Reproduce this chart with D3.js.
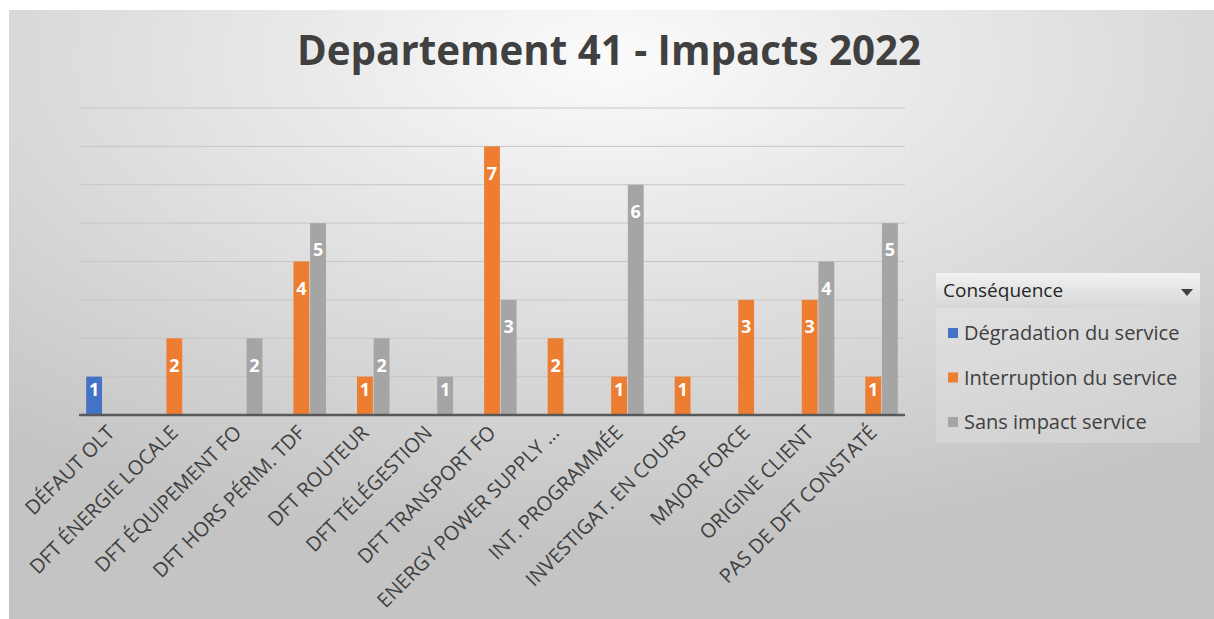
<!DOCTYPE html>
<html>
<head>
    <title>Departement 41 - Impacts 2022</title>
    <script src="https://d3js.org/d3.v7.min.js"></script>
    <style>
        body { margin: 0; background: #ffffff; }
        .cat-label { font-family: 'Open Sans', sans-serif; font-size: 20px; fill: #404040; }
        .val-label { font-family: 'Open Sans', sans-serif; font-size: 18px; font-weight: bold; fill: #ffffff; }
        .leg-text { font-family: 'Open Sans', sans-serif; font-size: 20px; fill: #404040; }
    </style>
</head>
<body>
    <svg id="chart" width="1214" height="619"></svg>

    <script>
        var categories = ["DÉFAUT OLT", "DFT ÉNERGIE LOCALE", "DFT ÉQUIPEMENT FO", "DFT HORS PÉRIM. TDF",
                          "DFT ROUTEUR", "DFT TÉLÉGESTION", "DFT TRANSPORT FO", "ENERGY POWER SUPPLY ...",
                          "INT. PROGRAMMÉE", "INVESTIGAT. EN COURS", "MAJOR FORCE", "ORIGINE CLIENT",
                          "PAS DE DFT CONSTATÉ"];

        var seriesNames = ["Dégradation du service", "Interruption du service", "Sans impact service"];
        var seriesColors = ["#4472c4", "#ed7d31", "#a5a5a5"];

        var degradation  = [1, null, null, null, null, null, null, null, null, null, null, null, null];
        var interruption = [null, 2, null, 4, 1, null, 7, 2, 1, 1, 3, 3, 1];
        var sansImpact   = [null, null, 2, 5, 2, 1, 3, null, 6, null, null, 4, 5];

        var gridTicks = [1, 2, 3, 4, 5, 6, 7, 8];

        var allSeries = [degradation, interruption, sansImpact];

        var svg = d3.select("#chart");

        // background
        var defs = svg.append("defs");
        var grad = defs.append("radialGradient").attr("id", "bg")
                       .attr("cx", "50%").attr("cy", "8%").attr("r", "80%");
        grad.append("stop").attr("offset", "0%").attr("stop-color", "#fbfbfb");
        grad.append("stop").attr("offset", "100%").attr("stop-color", "#c4c4c4");

        svg.append("rect").attr("x", 9).attr("y", 10).attr("width", 1205).attr("height", 609)
           .attr("fill", "url(#bg)");

        // title
        svg.append("text")
           .attr("x", 609).attr("y", 65)
           .attr("text-anchor", "middle")
           .attr("textLength", 624).attr("lengthAdjust", "spacingAndGlyphs")
           .style("font-family", "'Open Sans', sans-serif")
           .style("font-size", "42px").style("font-weight", "700")
           .style("fill", "#404040")
           .text("Departement 41 - Impacts 2022");

        var x0 = d3.scaleBand().domain(categories).range([79, 905])
                   .paddingInner(0.2).paddingOuter(0.1);
        var x1 = d3.scaleBand().domain(d3.range(3)).range([0, x0.bandwidth()]).padding(0.05);
        var y = d3.scaleLinear().domain([0, 8]).range([415, 108]);

        // gridlines
        svg.append("g").selectAll("line").data(gridTicks).enter().append("line")
           .attr("x1", 79).attr("x2", 905)
           .attr("y1", function(d) { return y(d); })
           .attr("y2", function(d) { return y(d); })
           .attr("stroke", "#c6c6c6").attr("stroke-width", 1);

        // bars
        var rows = [];
        allSeries.forEach(function(s, si) {
            s.forEach(function(v, ci) {
                if (v != null) rows.push({ cat: categories[ci], s: si, v: v });
            });
        });

        var bars = svg.append("g");
        bars.selectAll("rect").data(rows).enter().append("rect")
            .attr("x", function(d) { return x0(d.cat) + x1(d.s); })
            .attr("width", x1.bandwidth())
            .attr("y", function(d) { return y(d.v); })
            .attr("height", function(d) { return y(0) - y(d.v); })
            .attr("fill", function(d) { return seriesColors[d.s]; });

        bars.selectAll("text").data(rows).enter().append("text")
            .attr("class", "val-label")
            .attr("text-anchor", "middle")
            .attr("x", function(d) { return x0(d.cat) + x1(d.s) + x1.bandwidth() / 2; })
            .attr("y", function(d) { return Math.min(y(d.v) + 27, y(0) - 25); })
            .attr("dy", "0.35em")
            .text(function(d) { return d.v; });

        // baseline
        svg.append("line").attr("x1", 79).attr("x2", 905)
           .attr("y1", y(0)).attr("y2", y(0))
           .attr("stroke", "#595959").attr("stroke-width", 2.5);

        // category labels
        svg.append("g").selectAll("text").data(categories).enter().append("text")
           .attr("class", "cat-label")
           .attr("text-anchor", "end")
           .attr("transform", function(d) {
               return "translate(" + (x0(d) + x0.bandwidth() / 2 + 5) + "," + (y(0) + 19) + ") rotate(-45)";
           })
           .text(function(d) { return d; });

        // legend
        var leg = svg.append("g");
        leg.append("rect").attr("x", 936).attr("y", 273).attr("width", 264).attr("height", 170)
           .attr("fill", "#ffffff").attr("opacity", 0.18);
        var hg = defs.append("linearGradient").attr("id", "hdr").attr("x1", 0).attr("y1", 0).attr("x2", 0).attr("y2", 1);
        hg.append("stop").attr("offset", "0%").attr("stop-color", "#f2f2f2");
        hg.append("stop").attr("offset", "100%").attr("stop-color", "#d6d6d6");
        leg.append("rect").attr("x", 936).attr("y", 273).attr("width", 264).attr("height", 35)
           .attr("fill", "url(#hdr)");
        leg.append("text").attr("class", "leg-text").attr("x", 943).attr("y", 297)
           .style("font-size", "19px").style("fill", "#262626").text("Conséquence");
        leg.append("path").attr("d", "M1181,289 L1193,289 L1187,296 Z").attr("fill", "#404040");

        var items = leg.selectAll("g.item").data(seriesNames).enter().append("g")
           .attr("class", "item")
           .attr("transform", function(d, i) { return "translate(0," + (333 + i * 44.5) + ")"; });
        items.append("rect").attr("x", 948).attr("y", -5).attr("width", 10).attr("height", 10)
           .attr("fill", function(d, i) { return seriesColors[i]; });
        items.append("text").attr("class", "leg-text").attr("x", 964).attr("dy", "0.35em")
           .text(function(d) { return d; });
    </script>
</body>
</html>
